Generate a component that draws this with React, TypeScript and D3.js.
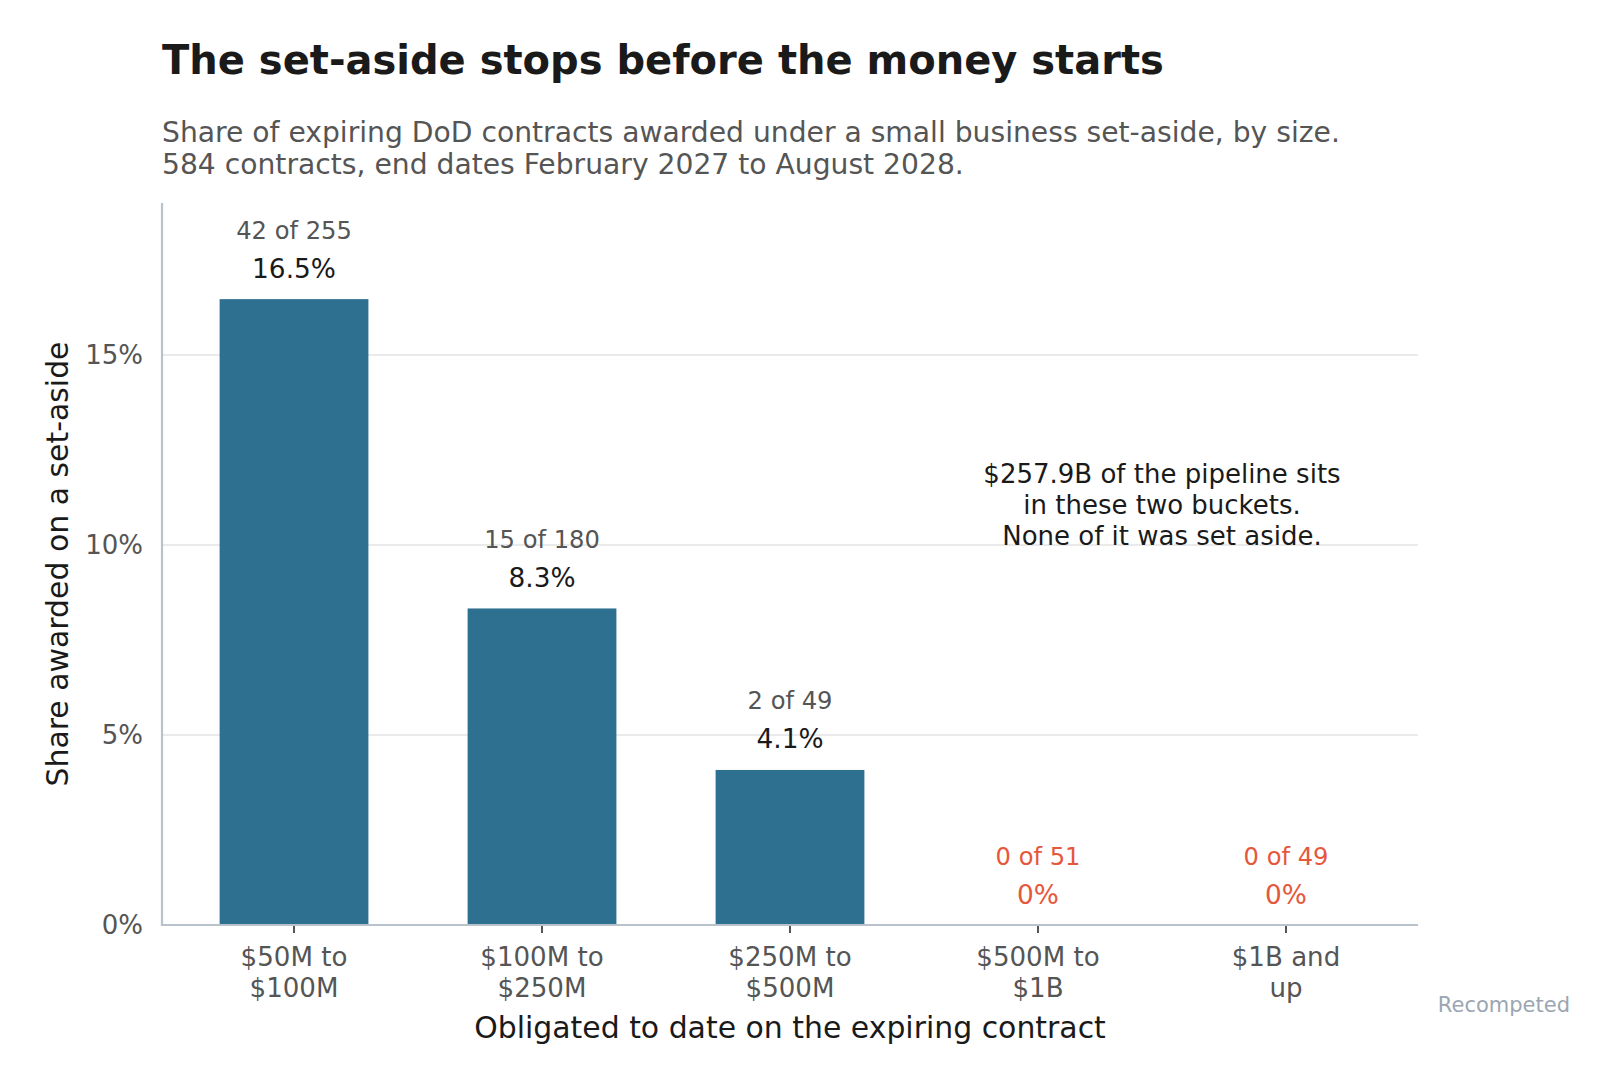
import { useEffect } from 'react';
import * as d3 from 'd3';

// Chart data
const categories = ['$50M to\n$100M', '$100M to\n$250M', '$250M to\n$500M', '$500M to\n$1B', '$1B and\nup'];
const setAsideCounts = [42, 15, 2, 0, 0];
const contractTotals = [255, 180, 49, 51, 49];
const shareValues = [16.47, 8.33, 4.08, 0, 0];
const shareLabels = ['16.5%', '8.3%', '4.1%', '0%', '0%'];
const yTicks = [0, 5, 10, 15];
const annotationLines = ['$257.9B of the pipeline sits', 'in these two buckets.', 'None of it was set aside.'];
const annotationBuckets = ['$500M to\n$1B', '$1B and\nup'];
const annotationY = 11;

const WIDTH = 1616;
const HEIGHT = 1091;
const FONT = '"DejaVu Sans", Verdana, sans-serif';

const BAR = '#2e7090';
const ZERO = '#e5583b';
const INK = '#1a1a1a';
const MUTED = '#555555';
const SPINE = '#b9c2cb';
const GRID = '#e3e3e3';

export default function App() {
  useEffect(() => {
    document.body.style.margin = '0';
  }, []);

  const margin = { top: 203, right: WIDTH - 1418, bottom: HEIGHT - 925, left: 162 };
  const plotLeft = margin.left;
  const plotRight = WIDTH - margin.right;
  const plotTop = margin.top;
  const plotBottom = HEIGHT - margin.bottom;

  const x = d3.scaleBand<string>()
    .domain(categories)
    .range([plotLeft, plotRight])
    .paddingInner(0.4)
    .paddingOuter(0.2323);

  const y = d3.scaleLinear()
    .domain([0, 19])
    .range([plotBottom, plotTop]);

  const center = (c: string) => (x(c) ?? 0) + x.bandwidth() / 2;
  const annX = d3.mean(annotationBuckets, center) ?? 0;

  return (
    <svg width={WIDTH} height={HEIGHT} style={{ display: 'block', background: '#fff' }} fontFamily={FONT}>
      {/* Title + subtitle */}
      <text x={162} y={74} fontSize={40} fontWeight="bold" fill={INK}>
        The set-aside stops before the money starts
      </text>
      <text x={162} y={141.7} fontSize={28.2} fill={MUTED}>
        Share of expiring DoD contracts awarded under a small business set-aside, by size.
      </text>
      <text x={162} y={174} fontSize={28.2} fill={MUTED}>
        584 contracts, end dates February 2027 to August 2028.
      </text>

      {/* Gridlines */}
      {yTicks.filter(t => t > 0).map(t => (
        <line key={t} x1={plotLeft} x2={plotRight} y1={y(t)} y2={y(t)} stroke={GRID} strokeWidth={1.6} />
      ))}

      {/* Y tick labels */}
      {yTicks.map(t => (
        <text key={t} x={143} y={y(t)} dy="0.36em" textAnchor="end" fontSize={26} fill={MUTED}>
          {t}%
        </text>
      ))}

      {/* Bars */}
      {categories.map((c, i) => (
        <rect
          key={c}
          x={x(c)}
          y={y(shareValues[i])}
          width={x.bandwidth()}
          height={plotBottom - y(shareValues[i])}
          fill={BAR}
        />
      ))}

      {/* Bar labels */}
      {categories.map((c, i) => {
        const top = y(shareValues[i]);
        const zero = shareValues[i] === 0;
        return (
          <g key={c} textAnchor="middle">
            <text x={center(c)} y={top - 60.5} fontSize={24.2} fill={zero ? ZERO : MUTED}>
              {setAsideCounts[i]} of {contractTotals[i]}
            </text>
            <text x={center(c)} y={top - 21.5} fontSize={26.4} fill={zero ? ZERO : INK}>
              {shareLabels[i]}
            </text>
          </g>
        );
      })}

      {/* Spines */}
      <line x1={plotLeft} x2={plotLeft} y1={plotTop} y2={plotBottom} stroke={SPINE} strokeWidth={2.2} />
      <line x1={plotLeft - 1.1} x2={plotRight} y1={plotBottom} y2={plotBottom} stroke={SPINE} strokeWidth={2.2} />

      {/* X ticks and labels */}
      {categories.map(c => (
        <g key={c}>
          <line x1={center(c)} x2={center(c)} y1={plotBottom + 1} y2={plotBottom + 8} stroke="#444" strokeWidth={1.8} />
          {c.split('\n').map((line, j) => (
            <text key={j} x={center(c)} y={966 + j * 30.7} textAnchor="middle" fontSize={26.1} fill={MUTED}>
              {line}
            </text>
          ))}
        </g>
      ))}

      {/* Annotation */}
      {annotationLines.map((line, j) => (
        <text
          key={j}
          x={annX}
          y={y(annotationY) + 7 + (j - 1) * 31.2}
          textAnchor="middle"
          fontSize={26}
          fill={INK}
        >
          {line}
        </text>
      ))}

      {/* Axis titles */}
      <text
        transform={`translate(68, ${(plotTop + plotBottom) / 2}) rotate(-90)`}
        textAnchor="middle"
        fontSize={29.9}
        fill={INK}
      >
        Share awarded on a set-aside
      </text>
      <text x={(plotLeft + plotRight) / 2} y={1037.7} textAnchor="middle" fontSize={29.9} fill={INK}>
        Obligated to date on the expiring contract
      </text>

      {/* Source tag */}
      <text x={1570} y={1011.7} textAnchor="end" fontSize={21} fill="#9aa6b2">
        Recompeted
      </text>
    </svg>
  );
}
